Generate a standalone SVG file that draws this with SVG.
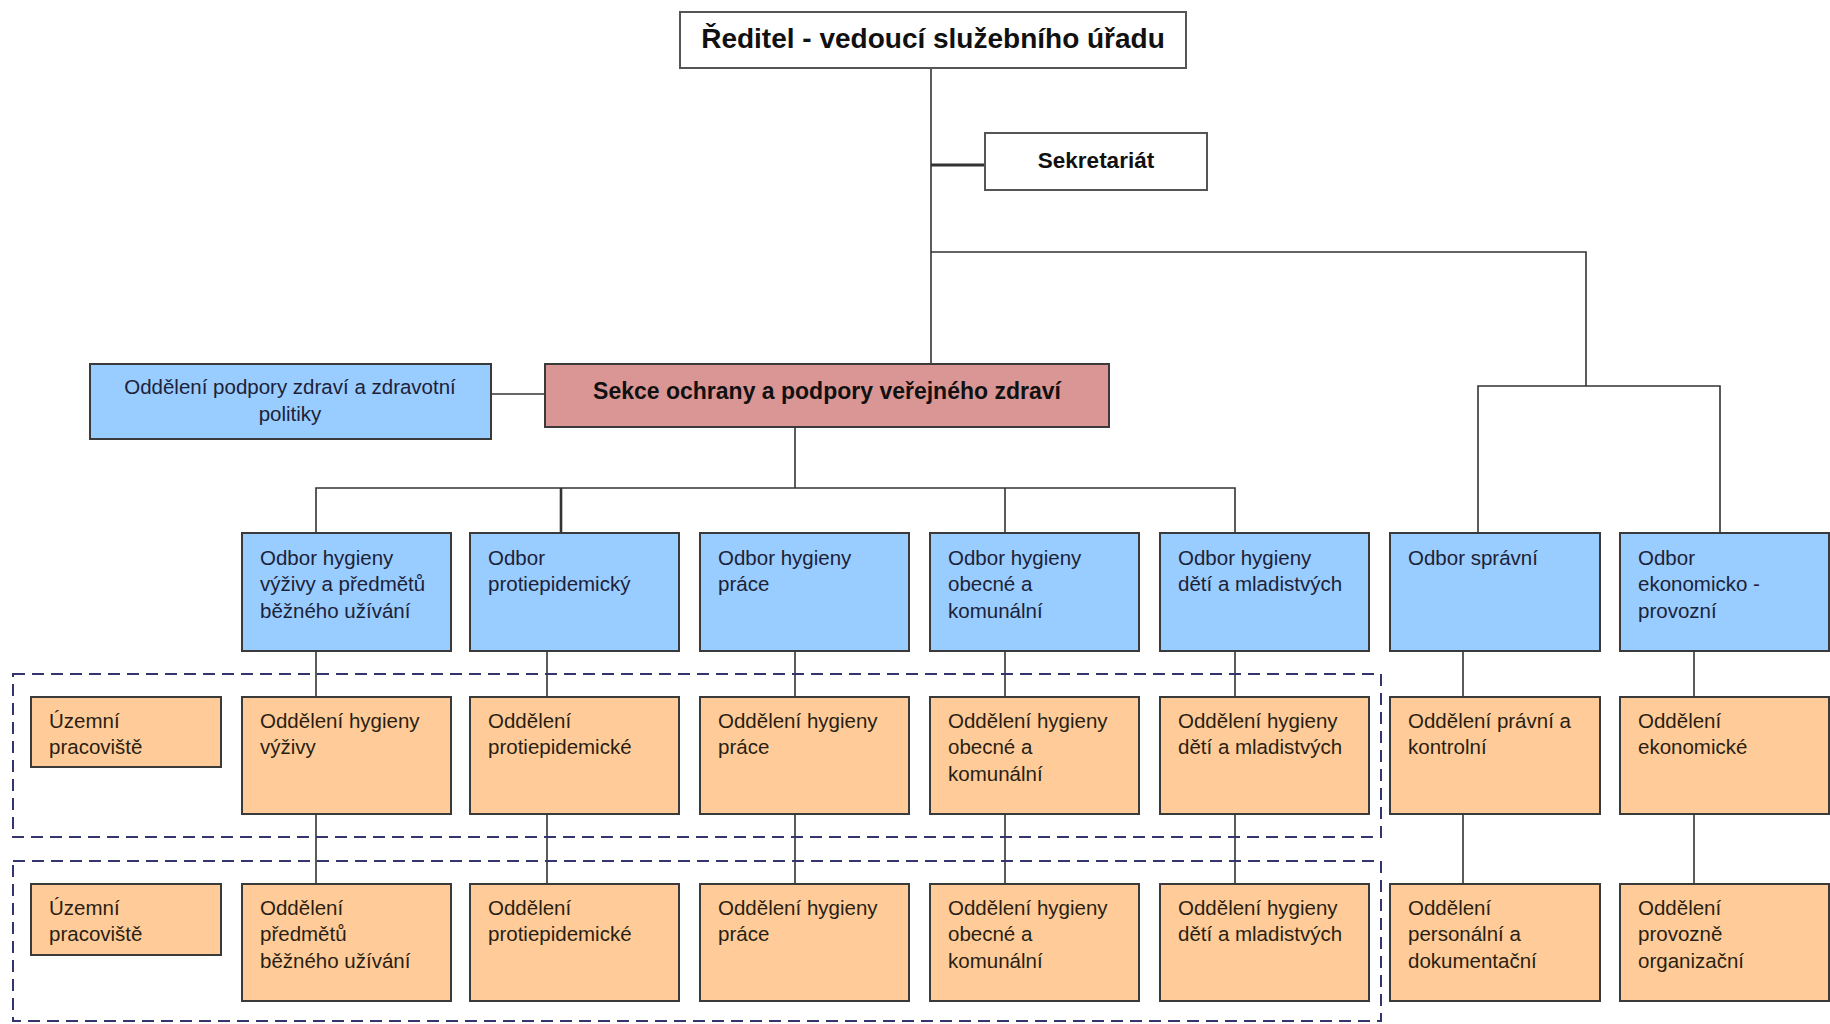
<svg xmlns="http://www.w3.org/2000/svg" width="1830" height="1024" viewBox="0 0 1830 1024">
<defs>
<style>
text{font-family:"Liberation Sans",Arial,sans-serif;}
.box{stroke:#3a3a3a;stroke-width:2;}
.top{fill:#ffffff;stroke:#555555;stroke-width:2;}
.blue{fill:#99ccff;}
.orange{fill:#ffcc99;}
.pink{fill:#d99694;}
.t{font-size:20.5px;fill:#1c2238;}
.to{font-size:20.5px;fill:#2a1e12;}
.b{font-weight:bold;fill:#111111;text-anchor:middle;}
.ln{stroke:#333333;stroke-width:1.6;fill:none;}
.dash{fill:none;stroke:#34346e;stroke-width:2;stroke-dasharray:12 7;}
</style>
</defs>
<rect width="1830" height="1024" fill="#ffffff"/>

<g id="connectors">
<path class="ln" d="M931 68 V364"/>
<path class="ln" style="stroke-width:3" d="M931 165 H985"/>
<path class="ln" d="M931 252 H1586 V386"/>
<path class="ln" d="M1478 533 V386 H1720 V533"/>
<path class="ln" d="M491 394 H545"/>
<path class="ln" d="M795 427 V488"/>
<path class="ln" d="M316 533 V488 H1235 V533"/>
<path class="ln" style="stroke-width:2.6" d="M561 488 V533"/>
<path class="ln" d="M1005 488 V533"/>
<path class="ln" d="M316 651 V697 M316 814 V884"/>
<path class="ln" d="M547 651 V697 M547 814 V884"/>
<path class="ln" d="M795 651 V697 M795 814 V884"/>
<path class="ln" d="M1005 651 V697 M1005 814 V884"/>
<path class="ln" d="M1235 651 V697 M1235 814 V884"/>
<path class="ln" d="M1463 651 V697 M1463 814 V884"/>
<path class="ln" d="M1694 651 V697 M1694 814 V884"/>
</g>

<g id="groups">
<rect class="dash" x="13" y="674" width="1368" height="163"/>
<rect class="dash" x="13" y="861" width="1368" height="160"/>
</g>

<g id="reditel">
<rect class="top" x="680" y="12" width="506" height="56"/>
<text class="b" x="933" y="48" style="font-size:28px">Ředitel - vedoucí služebního úřadu</text>
</g>
<g id="sekretariat">
<rect class="top" x="985" y="133" width="222" height="57"/>
<text class="b" x="1096" y="168" style="font-size:22.5px">Sekretariát</text>
</g>
<g id="podpora">
<rect class="box blue" x="90" y="364" width="401" height="75"/>
<text class="t" x="290" y="394" text-anchor="middle">Oddělení podpory zdraví a zdravotní</text>
<text class="t" x="290" y="421" text-anchor="middle">politiky</text>
</g>
<g id="sekce">
<rect class="box pink" x="545" y="364" width="564" height="63"/>
<text class="b" x="827" y="399" style="font-size:23px">Sekce ochrany a podpory veřejného zdraví</text>
</g>

<g id="odbor1">
<rect class="box blue" x="242" y="533" width="209" height="118"/>
<text class="t" x="260" y="565">Odbor hygieny</text>
<text class="t" x="260" y="591">výživy a předmětů</text>
<text class="t" x="260" y="618">běžného užívání</text>
</g>
<g id="odbor2">
<rect class="box blue" x="470" y="533" width="209" height="118"/>
<text class="t" x="488" y="565">Odbor</text>
<text class="t" x="488" y="591">protiepidemický</text>
</g>
<g id="odbor3">
<rect class="box blue" x="700" y="533" width="209" height="118"/>
<text class="t" x="718" y="565">Odbor hygieny</text>
<text class="t" x="718" y="591">práce</text>
</g>
<g id="odbor4">
<rect class="box blue" x="930" y="533" width="209" height="118"/>
<text class="t" x="948" y="565">Odbor hygieny</text>
<text class="t" x="948" y="591">obecné a</text>
<text class="t" x="948" y="618">komunální</text>
</g>
<g id="odbor5">
<rect class="box blue" x="1160" y="533" width="209" height="118"/>
<text class="t" x="1178" y="565">Odbor hygieny</text>
<text class="t" x="1178" y="591">dětí a mladistvých</text>
</g>
<g id="odbor6">
<rect class="box blue" x="1390" y="533" width="210" height="118"/>
<text class="t" x="1408" y="565">Odbor správní</text>
</g>
<g id="odbor7">
<rect class="box blue" x="1620" y="533" width="209" height="118"/>
<text class="t" x="1638" y="565">Odbor</text>
<text class="t" x="1638" y="591">ekonomicko -</text>
<text class="t" x="1638" y="618">provozní</text>
</g>

<g id="uzemni1">
<rect class="box orange" x="31" y="697" width="190" height="70"/>
<text class="to" x="49" y="728">Územní</text>
<text class="to" x="49" y="754">pracoviště</text>
</g>
<g id="odd1a">
<rect class="box orange" x="242" y="697" width="209" height="117"/>
<text class="to" x="260" y="728">Oddělení hygieny</text>
<text class="to" x="260" y="754">výživy</text>
</g>
<g id="odd2a">
<rect class="box orange" x="470" y="697" width="209" height="117"/>
<text class="to" x="488" y="728">Oddělení</text>
<text class="to" x="488" y="754">protiepidemické</text>
</g>
<g id="odd3a">
<rect class="box orange" x="700" y="697" width="209" height="117"/>
<text class="to" x="718" y="728">Oddělení hygieny</text>
<text class="to" x="718" y="754">práce</text>
</g>
<g id="odd4a">
<rect class="box orange" x="930" y="697" width="209" height="117"/>
<text class="to" x="948" y="728">Oddělení hygieny</text>
<text class="to" x="948" y="754">obecné a</text>
<text class="to" x="948" y="781">komunální</text>
</g>
<g id="odd5a">
<rect class="box orange" x="1160" y="697" width="209" height="117"/>
<text class="to" x="1178" y="728">Oddělení hygieny</text>
<text class="to" x="1178" y="754">dětí a mladistvých</text>
</g>
<g id="odd6a">
<rect class="box orange" x="1390" y="697" width="210" height="117"/>
<text class="to" x="1408" y="728">Oddělení právní a</text>
<text class="to" x="1408" y="754">kontrolní</text>
</g>
<g id="odd7a">
<rect class="box orange" x="1620" y="697" width="209" height="117"/>
<text class="to" x="1638" y="728">Oddělení</text>
<text class="to" x="1638" y="754">ekonomické</text>
</g>

<g id="uzemni2">
<rect class="box orange" x="31" y="884" width="190" height="71"/>
<text class="to" x="49" y="915">Územní</text>
<text class="to" x="49" y="941">pracoviště</text>
</g>
<g id="odd1b">
<rect class="box orange" x="242" y="884" width="209" height="117"/>
<text class="to" x="260" y="915">Oddělení</text>
<text class="to" x="260" y="941">předmětů</text>
<text class="to" x="260" y="968">běžného užívání</text>
</g>
<g id="odd2b">
<rect class="box orange" x="470" y="884" width="209" height="117"/>
<text class="to" x="488" y="915">Oddělení</text>
<text class="to" x="488" y="941">protiepidemické</text>
</g>
<g id="odd3b">
<rect class="box orange" x="700" y="884" width="209" height="117"/>
<text class="to" x="718" y="915">Oddělení hygieny</text>
<text class="to" x="718" y="941">práce</text>
</g>
<g id="odd4b">
<rect class="box orange" x="930" y="884" width="209" height="117"/>
<text class="to" x="948" y="915">Oddělení hygieny</text>
<text class="to" x="948" y="941">obecné a</text>
<text class="to" x="948" y="968">komunální</text>
</g>
<g id="odd5b">
<rect class="box orange" x="1160" y="884" width="209" height="117"/>
<text class="to" x="1178" y="915">Oddělení hygieny</text>
<text class="to" x="1178" y="941">dětí a mladistvých</text>
</g>
<g id="odd6b">
<rect class="box orange" x="1390" y="884" width="210" height="117"/>
<text class="to" x="1408" y="915">Oddělení</text>
<text class="to" x="1408" y="941">personální a</text>
<text class="to" x="1408" y="968">dokumentační</text>
</g>
<g id="odd7b">
<rect class="box orange" x="1620" y="884" width="209" height="117"/>
<text class="to" x="1638" y="915">Oddělení</text>
<text class="to" x="1638" y="941">provozně</text>
<text class="to" x="1638" y="968">organizační</text>
</g>
</svg>
